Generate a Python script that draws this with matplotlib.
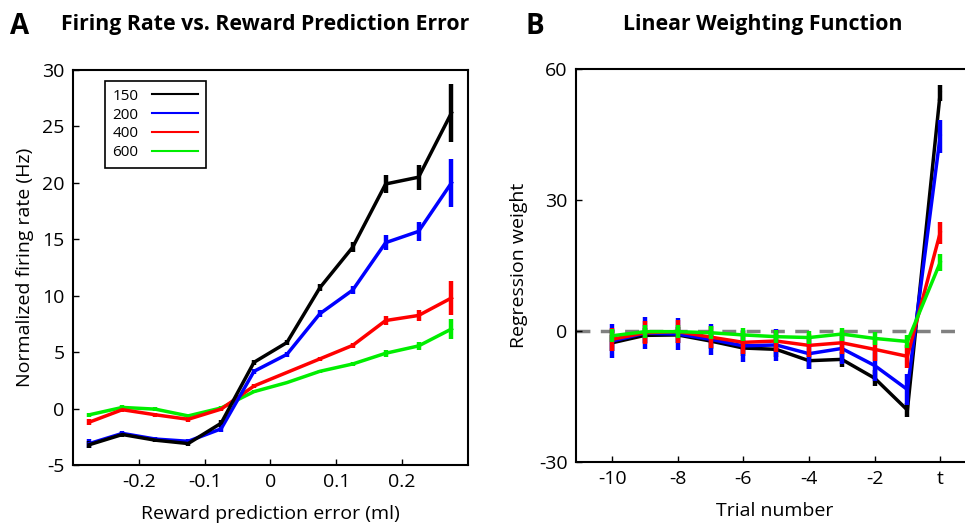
import matplotlib
matplotlib.use('Agg')
import matplotlib.pyplot as plt

plt.rcParams['font.family'] = ['Open Sans', 'DejaVu Sans']
plt.rcParams['axes.unicode_minus'] = False

# panel A: firing rate vs reward prediction error, one curve per delay
rpe = [-0.275, -0.225, -0.175, -0.125, -0.075, -0.025, 0.025, 0.075, 0.125, 0.175, 0.225, 0.275]
delays = ['150', '200', '400', '600']
colors = ['black', '#0000ff', '#ff0000', '#00ee00']

rate_150 = [-3.2, -2.3, -2.8, -3.1, -1.3, 4.1, 5.85, 10.7, 14.3, 19.9, 20.5, 26.2]
rate_200 = [-3.1, -2.2, -2.7, -2.9, -1.8, 3.3, 4.8, 8.4, 10.5, 14.7, 15.7, 20.0]
rate_400 = [-1.2, -0.1, -0.55, -0.95, -0.05, 2.0, 3.2, 4.4, 5.6, 7.8, 8.25, 9.8]
rate_600 = [-0.55, 0.1, -0.05, -0.65, 0.05, 1.5, 2.3, 3.3, 3.95, 4.9, 5.55, 7.05]

err_150 = [0.3, 0.2, 0.2, 0.2, 0.3, 0.2, 0.2, 0.3, 0.45, 0.8, 1.1, 2.6]
err_200 = [0.4, 0.2, 0.2, 0.2, 0.3, 0.2, 0.2, 0.3, 0.35, 0.65, 0.85, 2.1]
err_400 = [0.3, 0.2, 0.2, 0.2, 0.2, 0.2, 0.0, 0.2, 0.25, 0.4, 0.45, 1.5]
err_600 = [0.2, 0.2, 0.15, 0.15, 0.2, 0.15, 0.0, 0.15, 0.2, 0.3, 0.35, 0.85]

# panel B: regression weights on past trials
trials = [-10, -9, -8, -7, -6, -5, -4, -3, -2, -1, 0]
trial_labels = ['-10', '-8', '-6', '-4', '-2', 't']

w_150 = [-2.7, -1.0, -0.9, -2.3, -3.9, -4.2, -6.8, -6.5, -10.8, -18.1, 54.5]
w_200 = [-2.3, -0.5, -0.7, -1.9, -3.4, -3.2, -5.2, -4.0, -7.9, -13.4, 44.6]
w_400 = [-1.9, -0.4, -0.15, -1.4, -2.6, -2.3, -3.3, -2.7, -4.2, -5.8, 22.5]
w_600 = [-1.1, -0.15, -0.15, -0.4, -0.9, -1.3, -1.5, -0.7, -1.7, -2.4, 15.7]

werr_150 = [1.8, 1.8, 1.8, 1.8, 1.8, 1.8, 1.8, 1.8, 1.8, 1.5, 1.8]
werr_200 = [3.8, 3.6, 3.6, 3.6, 3.6, 3.6, 3.6, 3.6, 3.6, 3.6, 3.8]
werr_400 = [2.7, 2.6, 2.6, 2.6, 2.6, 2.6, 2.6, 2.6, 2.6, 2.6, 2.5]
werr_600 = [1.5, 1.5, 1.5, 1.5, 1.5, 1.5, 1.5, 1.5, 1.5, 1.5, 2.0]

rates = [rate_150, rate_200, rate_400, rate_600]
rate_errs = [err_150, err_200, err_400, err_600]
weights = [w_150, w_200, w_400, w_600]
weight_errs = [werr_150, werr_200, werr_400, werr_600]

fig = plt.figure(figsize=(9.65, 5.25), dpi=100)
axA = fig.add_axes([0.0756, 0.1143, 0.4093, 0.7524])
axB = fig.add_axes([0.5969, 0.12, 0.4114, 0.7486])

for ax in (axA, axB):
    for s in ax.spines.values():
        s.set_linewidth(1.5)
    ax.tick_params(direction='in', length=4, width=1, labelsize=14, pad=6,
                   top=False, right=False)

# A
for i in [3, 2, 1, 0]:
    axA.errorbar(rpe, rates[i], yerr=rate_errs[i], color=colors[i], lw=2.5,
                 elinewidth=3.2, capsize=0)
for i in range(4):
    axA.plot([], [], color=colors[i], lw=1.5, label=delays[i])
axA.set_xlim(-0.3, 0.3)
axA.set_ylim(-5, 30)
axA.set_xticks([-0.2, -0.1, 0, 0.1, 0.2])
axA.set_xticklabels(['-0.2', '-0.1', '0', '0.1', '0.2'])
axA.set_yticks([-5, 0, 5, 10, 15, 20, 25, 30])
axA.set_xlabel('Reward prediction error (ml)', fontsize=14, labelpad=10)
axA.set_ylabel('Normalized firing rate (Hz)', fontsize=14, labelpad=6)
leg = axA.legend(loc='upper left', bbox_to_anchor=(0.081, 0.972), borderaxespad=0,
                 fontsize=11, markerfirst=False, fancybox=False, framealpha=1,
                 handlelength=3.0, labelspacing=0.25, borderpad=0.5,
                 handletextpad=0.9)
leg.get_frame().set_edgecolor('black')
leg.get_frame().set_linewidth(1.2)

# B
axB.axhline(0, color='#808080', lw=2.5, dashes=(4, 3), zorder=1)
for i in [1, 2, 3, 0]:
    axB.errorbar(trials, weights[i], yerr=weight_errs[i], color=colors[i], lw=2.5,
                 elinewidth=3.2, capsize=0, zorder=2 + i)
axB.set_xlim(-11.1, 1.0)
axB.set_ylim(-30, 60)
axB.set_xticks([-10, -8, -6, -4, -2, 0])
axB.set_xticklabels(trial_labels)
axB.set_yticks([-30, 0, 30, 60])
axB.set_xlabel('Trial number', fontsize=14, labelpad=10)
axB.set_ylabel('Regression weight', fontsize=14, labelpad=8)

fig.text(0.010, 0.950, 'A', fontsize=20, fontweight='bold', va='center')
fig.text(0.275, 0.953, 'Firing Rate vs. Reward Prediction Error', fontsize=15.3,
         fontweight='bold', ha='center', va='center')
fig.text(0.545, 0.950, 'B', fontsize=20, fontweight='bold', va='center')
fig.text(0.79, 0.953, 'Linear Weighting Function', fontsize=15.3,
         fontweight='bold', ha='center', va='center')

fig.savefig('out.png', dpi=100)
